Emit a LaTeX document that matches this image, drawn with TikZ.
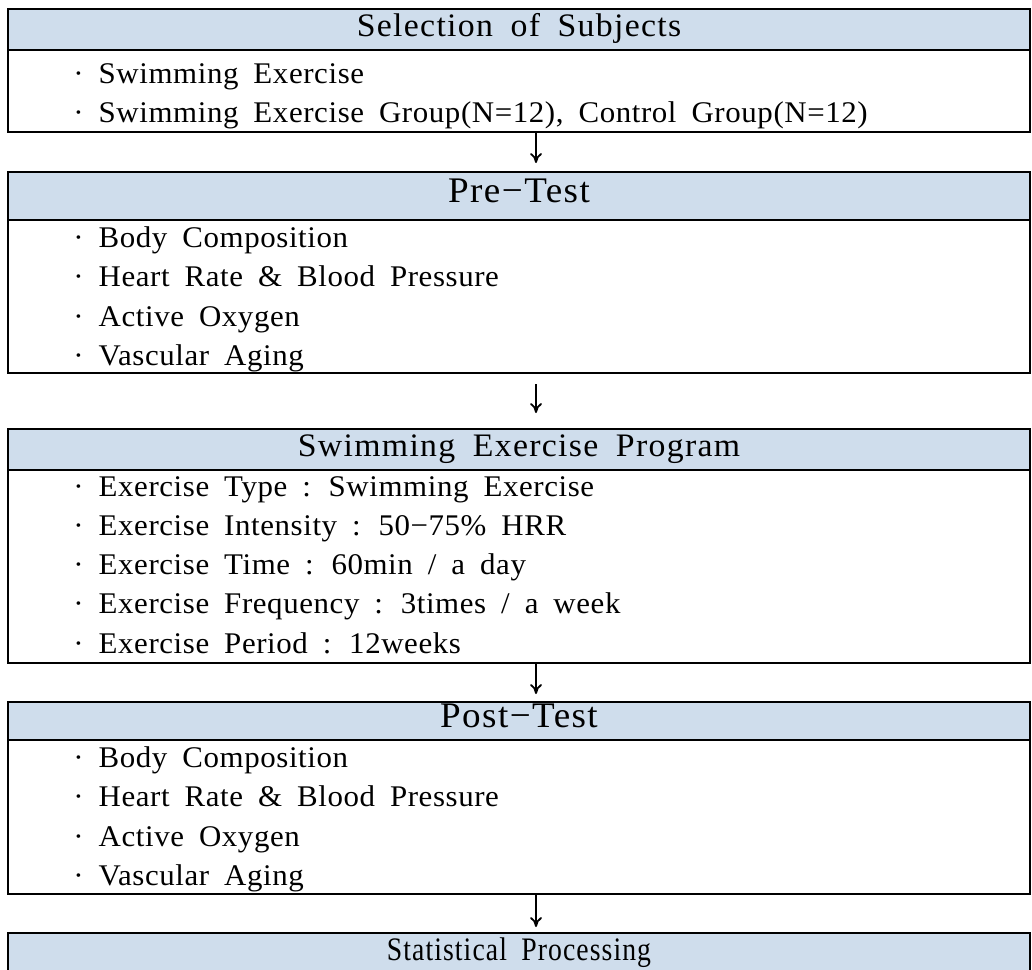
\documentclass[tikz,border=0pt]{standalone}
\usepackage{fontspec}
\setmainfont{Liberation Serif}[FakeStretch=1.03,LetterSpace=2,WordSpace=1.8]
\usetikzlibrary{arrows.meta}
\definecolor{hdrblue}{RGB}{207,221,236}

\begin{document}
\begin{tikzpicture}[x=0.5pt,y=-0.5pt,>={To[length=5pt,width=6pt]},
  hdr/.style={draw,line width=1pt,fill=hdrblue,minimum width=511pt,inner sep=0pt,anchor=north,text height=0.66em,text depth=0pt},
  bodybox/.style={draw,line width=1pt,minimum width=511pt,inner sep=0pt,anchor=north},
  item/.style={anchor=base west,inner sep=0pt,font=\fontsize{15pt}{18pt}\selectfont},
  flow/.style={->,line width=0.9pt}]
\useasboundingbox (0,0) rectangle (1032,969);
\clip (0,0) rectangle (1032,969);

% boxes
\node[bodybox,minimum height=41pt] (b1) at (519,49) {};
\node[hdr,minimum height=20.5pt,font=\fontsize{16.4pt}{19pt}\selectfont\addfontfeature{LetterSpace=4}] (h1) at (519,8) {Selection of Subjects};
\node[bodybox,minimum height=76.5pt] (b2) at (519,219) {};
\node[hdr,minimum height=24pt,font=\fontsize{18pt}{21pt}\selectfont\addfontfeature{LetterSpace=4}] (h2) at (519,171) {Pre−Test};
\node[bodybox,minimum height=96.5pt] (b3) at (519,469) {};
\node[hdr,minimum height=20.5pt,font=\fontsize{16.4pt}{19pt}\selectfont\addfontfeature{LetterSpace=4}] (h3) at (519,428) {Swimming Exercise Program};
\node[bodybox,minimum height=77pt] (b4) at (519,739) {};
\node[hdr,minimum height=19pt,font=\fontsize{18pt}{21pt}\selectfont\addfontfeature{LetterSpace=4}] (h4) at (519,701) {Post−Test};
\node[hdr,minimum height=21pt,font=\fontsize{16.4pt}{19pt}\selectfont\addfontfeature{LetterSpace=4}] (h5) at (519,932) {\scalebox{0.82}[1]{Statistical Processing}};

% items
\node[item] (s1) at (73,83) {· Swimming Exercise};
\node[item] (s2) at (73,122.5) {· Swimming Exercise Group(N=12), Control Group(N=12)};

\node[item] (p1) at (73,247) {· Body Composition};
\node[item] (p2) at (73,286.5) {· Heart Rate \& Blood Pressure};
\node[item] (p3) at (73,326) {· Active Oxygen};
\node[item] (p4) at (73,365) {· Vascular Aging};

\node[item] (e1) at (73,496) {· Exercise Type : Swimming Exercise};
\node[item] (e2) at (73,535.25) {· Exercise Intensity : 50−75\% HRR};
\node[item] (e3) at (73,574.5) {· Exercise Time : 60min / a day};
\node[item] (e4) at (73,613.75) {· Exercise Frequency : 3times / a week};
\node[item] (e5) at (73,653) {· Exercise Period : 12weeks};

\node[item] (q1) at (73,767) {· Body Composition};
\node[item] (q2) at (73,806.5) {· Heart Rate \& Blood Pressure};
\node[item] (q3) at (73,846) {· Active Oxygen};
\node[item] (q4) at (73,885.5) {· Vascular Aging};

% arrows
\draw[flow,shorten >=4pt] ([xshift=8.5pt]b1.south) -- ([xshift=8.5pt]h2.north);
\draw[flow,shorten <=5pt,shorten >=7.5pt] ([xshift=8.5pt]b2.south) -- ([xshift=8.5pt]h3.north);
\draw[flow,shorten >=3.5pt] ([xshift=8.5pt]b3.south) -- ([xshift=8.5pt]h4.north);
\draw[flow,shorten >=2.5pt] ([xshift=8.5pt]b4.south) -- ([xshift=8.5pt]h5.north);

\end{tikzpicture}
\end{document}
